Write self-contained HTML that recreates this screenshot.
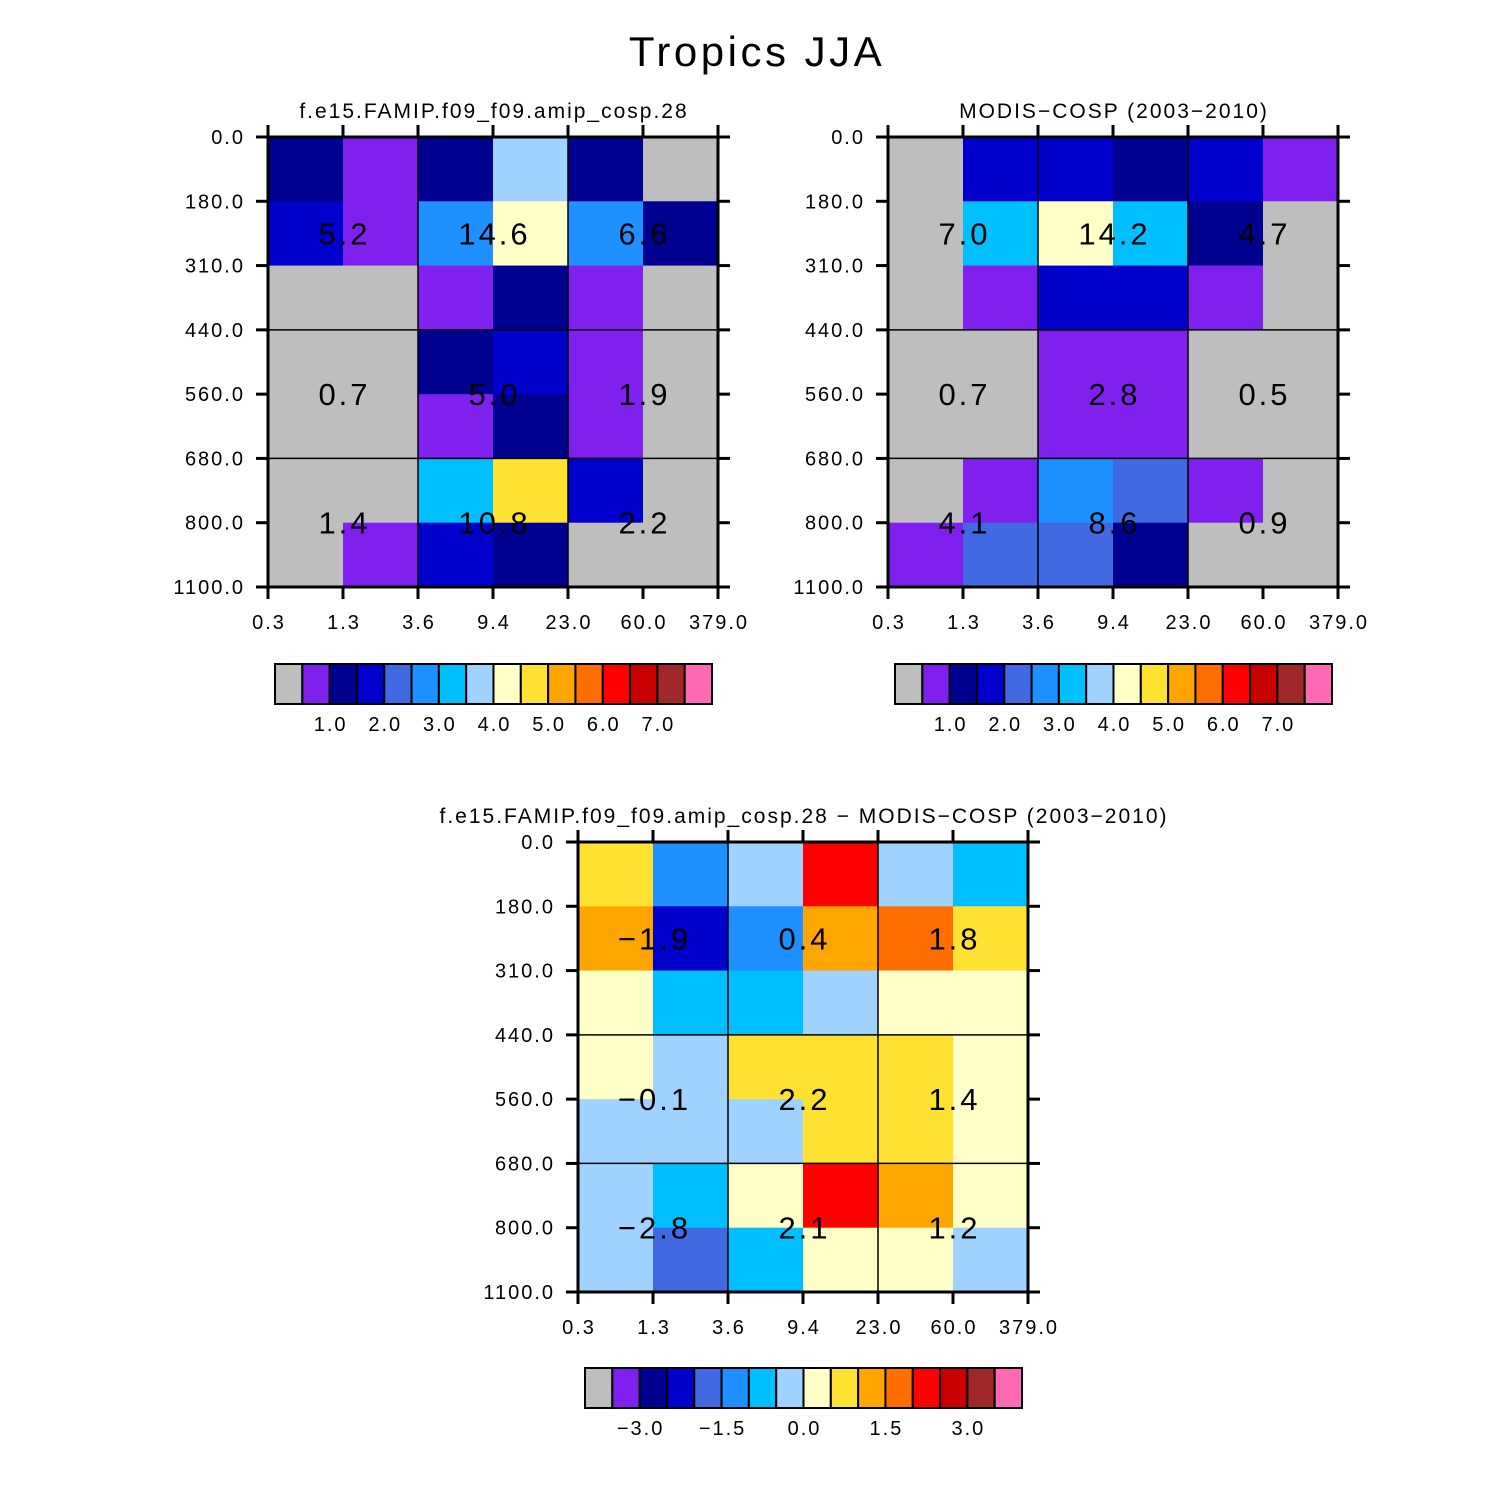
<!DOCTYPE html>
<html><head><meta charset="utf-8"><style>
html,body{margin:0;padding:0;background:#fff}
svg{display:block}
text{font-family:"Liberation Sans","DejaVu Sans",sans-serif;fill:#000;letter-spacing:2px}
</style></head><body>
<svg id="chart" width="1510" height="1510" viewBox="0 0 1510 1510" xmlns="http://www.w3.org/2000/svg">
<rect width="1510" height="1510" fill="#fff"/>
<text x="757" y="66" font-size="42" text-anchor="middle" style="letter-spacing:3.5px">Tropics JJA</text>
</svg>
<script>
// ---- data ----
const xTickLabels = ["0.3","1.3","3.6","9.4","23.0","60.0","379.0"];
const yTickLabels = ["0.0","180.0","310.0","440.0","560.0","680.0","800.0","1100.0"];
const palette = ["#BEBEBE","#8020EE","#000090","#0000CD","#4169E1","#1E90FF","#00BFFF","#A0D2FF","#FFFFC8","#FFE132","#FFA500","#FF6E00","#FF0000","#C80000","#A02828","#FF69B4"];
const absLevels = [0.5,1,1.5,2,2.5,3,3.5,4,4.5,5,5.5,6,6.5,7,7.5];
const absCbLabels = ["1.0","2.0","3.0","4.0","5.0","6.0","7.0"];
const absCbLabelIdx = [2,4,6,8,10,12,14];
const diffLevels = [-3.5,-3,-2.5,-2,-1.5,-1,-0.5,0,0.5,1,1.5,2,2.5,3,3.5];
const diffCbLabels = ["\u22123.0","\u22121.5","0.0","1.5","3.0"];
const diffCbLabelIdx = [2,5,8,11,14];
const modelVals = [
 [1.2,0.8,1.2,3.8,1.2,0.2],
 [1.8,0.8,2.8,4.2,2.8,1.2],
 [0.2,0.2,0.8,1.2,0.8,0.2],
 [0.2,0.2,1.2,1.8,0.8,0.2],
 [0.2,0.2,0.8,1.2,0.8,0.2],
 [0.2,0.2,3.2,4.8,1.8,0.2],
 [0.2,0.8,1.8,1.2,0.2,0.2]];
const obsVals = [
 [0.2,1.8,1.8,1.2,1.8,0.8],
 [0.2,3.2,4.2,3.2,1.2,0.2],
 [0.2,0.8,1.8,1.8,0.8,0.2],
 [0.2,0.2,0.8,0.8,0.2,0.2],
 [0.2,0.2,0.8,0.8,0.2,0.2],
 [0.2,0.8,2.8,2.2,0.8,0.2],
 [0.8,2.2,2.2,1.2,0.2,0.2]];
const diffVals = [
 [0.75,-1.25,-0.25,2.25,-0.25,-0.75],
 [1.25,-2.25,-1.25,1.25,1.75,0.75],
 [0.25,-0.75,-0.75,-0.25,0.25,0.25],
 [0.25,-0.25,0.75,0.75,0.75,0.25],
 [-0.25,-0.25,-0.25,0.75,0.75,0.25],
 [-0.25,-0.75,0.25,2.25,1.25,0.25],
 [-0.25,-1.75,-0.75,0.25,0.25,-0.25]];
const modelSums = ["5.2","14.6","6.6","0.7","5.0","1.9","1.4","10.8","2.2"];
const obsSums = ["7.0","14.2","4.7","0.7","2.8","0.5","4.1","8.6","0.9"];
const diffSums = ["\u22121.9","0.4","1.8","\u22120.1","2.2","1.4","\u22122.8","2.1","1.2"];

const NS="http://www.w3.org/2000/svg";
const svg=document.getElementById('chart');
function mk(tag,attrs,parent){const e=document.createElementNS(NS,tag);for(const k in attrs)e.setAttribute(k,attrs[k]);(parent||svg).appendChild(e);return e;}
function colorIdx(v,levels){let i=0;while(i<levels.length&&v>=levels[i])i++;return i;}

function panel(name,x0,y0,vals,levels,sums,title,cbx,cby,cbLabels,cbIdx){
  const W=450,H=450,nc=6,nr=7;
  const xs=c=>x0+c*W/nc, ys=r=>y0+r*H/nr;
  const g=mk('g',{});
  
  
  const t=mk('text',{x:x0+W/2+1,y:y0-19,'font-size':21,'text-anchor':'middle'},g);
  t.textContent=title;
  
  
  for(let r=0;r<nr;r++)for(let c=0;c<nc;c++){
    const ci=colorIdx(vals[r][c],levels);
    const rc=mk('rect',{x:xs(c),y:ys(r),width:W/nc+0.5,height:H/nr+0.5,fill:palette[ci]},g);
    
    
  }
  [2,4].forEach(c=>mk('line',{x1:xs(c),y1:y0,x2:xs(c),y2:y0+H,stroke:'#000','stroke-width':1.5},g));
  [3,5].forEach(r=>mk('line',{x1:x0,y1:ys(r),x2:x0+W,y2:ys(r),stroke:'#000','stroke-width':1.5},g));
  const gx=[1,3,5], gy=[1.5,4,6];
  for(let i=0;i<3;i++)for(let j=0;j<3;j++){
    const yc=ys(gy[i]);
    const tx=mk('text',{x:xs(gx[j])+1.5,y:yc+11,'font-size':31,'text-anchor':'middle',style:'letter-spacing:3px'},g);
    tx.textContent=sums[i*3+j];
    
    
  }
  mk('rect',{x:x0,y:y0,width:W,height:H,fill:'none',stroke:'#000','stroke-width':3},g);
  for(let r=0;r<=nr;r++){
    mk('line',{x1:x0-12,y1:ys(r),x2:x0,y2:ys(r),stroke:'#000','stroke-width':3},g);
    mk('line',{x1:x0+W,y1:ys(r),x2:x0+W+12,y2:ys(r),stroke:'#000','stroke-width':3},g);
    const tl=mk('text',{x:x0-23,y:ys(r)+7,'font-size':20,'text-anchor':'end'},g);
    tl.textContent=yTickLabels[r];
    
    
  }
  for(let c=0;c<=nc;c++){
    mk('line',{x1:xs(c),y1:y0-12,x2:xs(c),y2:y0,stroke:'#000','stroke-width':3},g);
    mk('line',{x1:xs(c),y1:y0+H,x2:xs(c),y2:y0+H+12,stroke:'#000','stroke-width':3},g);
    const tl=mk('text',{x:xs(c)+1,y:y0+H+42,'font-size':20,'text-anchor':'middle'},g);
    tl.textContent=xTickLabels[c];
    
    
  }
  const cw=437/16;
  for(let k=0;k<16;k++){
    const b=mk('rect',{x:cbx+k*cw,y:cby,width:cw,height:40,fill:palette[k],stroke:'#000','stroke-width':2},g);
    
    
  }
  cbLabels.forEach((l,i)=>{
    const tl=mk('text',{x:cbx+cbIdx[i]*cw+1,y:cby+67,'font-size':20,'text-anchor':'middle'},g);
    tl.textContent=l;
    
    
  });
}
panel('model',268,137,modelVals,absLevels,modelSums,'f.e15.FAMIP.f09_f09.amip_cosp.28',275,664,absCbLabels,absCbLabelIdx);
panel('obs',888,137,obsVals,absLevels,obsSums,'MODIS\u2212COSP (2003\u22122010)',895,664,absCbLabels,absCbLabelIdx);
panel('diff',578,842,diffVals,diffLevels,diffSums,'f.e15.FAMIP.f09_f09.amip_cosp.28 \u2212 MODIS\u2212COSP (2003\u22122010)',585,1368,diffCbLabels,diffCbLabelIdx);
</script>
</body></html>
